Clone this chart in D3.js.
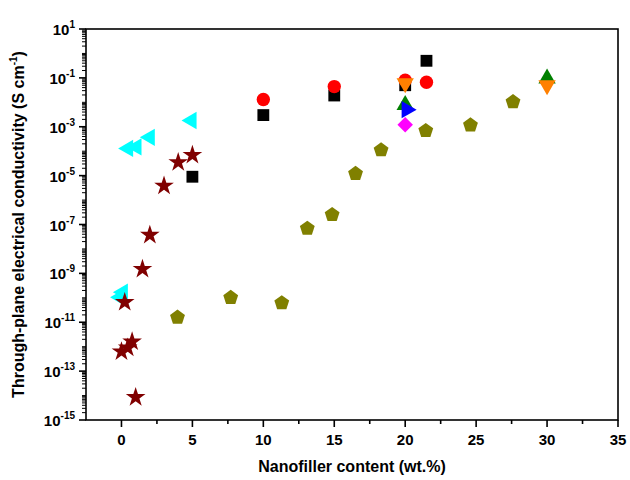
<!DOCTYPE html>
<html>
<head>
<meta charset="utf-8">
<script src="https://cdn.jsdelivr.net/npm/d3@7"></script>
<style>
  body { margin: 0; background: #fff; }
  text { font-family: "Liberation Sans", Arial, sans-serif; font-weight: bold; }
</style>
</head>
<body>
<script>
var svgWidth = 630, svgHeight = 480;
var margin = { top: 29, right: 12, bottom: 60, left: 86 },
    width = svgWidth - margin.left - margin.right,
    height = svgHeight - margin.top - margin.bottom;

// series data, [wt.%, S/cm]
var squares   = [[5, 9e-6], [10, 3e-3], [15, 0.019], [20, 0.05], [21.5, 0.5]];
var circles   = [[10, 0.013], [15, 0.044], [20, 0.08], [21.5, 0.066]];
var upTri     = [[20, 0.0078], [30, 0.095]];
var rightTri  = [[20.1, 0.005]];
var diamonds  = [[20, 0.0012]];
var downTri   = [[20, 0.06], [30, 0.05]];
var leftTri   = [[0.47, 1.3e-4], [1.06, 1.5e-4], [2.0, 3.7e-4], [4.94, 1.8e-3], [0.1, 1.7e-10], [-0.1, 1.05e-10]];
var pentagons = [[3.95, 1.7e-11], [7.7, 1.1e-10], [11.3, 6.6e-11], [13.1, 7.4e-8], [14.85, 2.7e-7],
                 [16.5, 1.3e-5], [18.3, 1.2e-4], [21.45, 7.4e-4], [24.6, 1.26e-3], [27.6, 0.0112]];
var stars     = [[5.0, 6.9e-5], [4.0, 3.5e-5], [3.0, 3.8e-6], [2.0, 3.7e-8], [1.48, 1.5e-9], [0.23, 6.6e-11],
                 [0.75, 1.6e-12], [0.44, 9e-13], [0.0, 6.3e-13], [1.0, 8.5e-15]];

var xTicks = [0, 5, 10, 15, 20, 25, 30, 35];
var yExps = [1, -1, -3, -5, -7, -9, -11, -13, -15];

var svg = d3.select("body").append("svg").attr("width", svgWidth).attr("height", svgHeight);
var g = svg.append("g").attr("transform", `translate(${margin.left},${margin.top})`);

var x = d3.scaleLinear().domain([-2.5, 35]).range([0, width]);
var y = d3.scaleLog().domain([1e-15, 10]).range([height, 0]);

// frame
g.append("rect").attr("width", width).attr("height", height)
    .attr("fill", "none").attr("stroke", "#000").attr("stroke-width", 1.6);

// x ticks
var xMinor = d3.range(-2.5, 35.1, 2.5).filter(d => d % 5 !== 0 && d > -2.5);
g.selectAll(".xmaj").data(xTicks).enter().append("line")
    .attr("x1", d => x(d)).attr("x2", d => x(d))
    .attr("y1", height).attr("y2", height + 7)
    .attr("stroke", "#000").attr("stroke-width", 1.6);
g.selectAll(".xmin").data(xMinor).enter().append("line")
    .attr("x1", d => x(d)).attr("x2", d => x(d))
    .attr("y1", height).attr("y2", height + 4)
    .attr("stroke", "#000").attr("stroke-width", 1.6);
g.selectAll(".xlab").data(xTicks).enter().append("text")
    .attr("x", d => x(d)).attr("y", height + 25)
    .attr("text-anchor", "middle").attr("font-size", 15).text(d => d);

// y ticks
var yMinor = [];
for (var e = -15; e < 1; e++) {
  for (var m = 2; m <= 9; m++) yMinor.push(m * Math.pow(10, e));
  if (yExps.indexOf(e) < 0) yMinor.push(Math.pow(10, e));
}
g.selectAll(".ymaj").data(yExps).enter().append("line")
    .attr("x1", 0).attr("x2", -7)
    .attr("y1", d => y(Math.pow(10, d))).attr("y2", d => y(Math.pow(10, d)))
    .attr("stroke", "#000").attr("stroke-width", 1.6);
g.selectAll(".ymin").data(yMinor).enter().append("line")
    .attr("x1", 0).attr("x2", -4)
    .attr("y1", d => y(d)).attr("y2", d => y(d))
    .attr("stroke", "#000").attr("stroke-width", 1);
var yl = g.selectAll(".ylab").data(yExps).enter().append("text")
    .attr("x", -11).attr("y", d => y(Math.pow(10, d)) + 6)
    .attr("text-anchor", "end").attr("font-size", 15);
yl.append("tspan").text("10");
yl.append("tspan").attr("dy", -7).attr("font-size", 10).text(d => d);

// axis titles
svg.append("text").attr("x", margin.left + x(16.25)).attr("y", 472)
    .attr("text-anchor", "middle").attr("font-size", 16).text("Nanofiller content (wt.%)");
var yt = svg.append("text").attr("transform", `translate(24,${margin.top + height / 2}) rotate(-90)`)
    .attr("text-anchor", "middle").attr("font-size", 16);
yt.append("tspan").text("Through-plane electrical conductivity (S cm");
yt.append("tspan").attr("dy", -7).attr("font-size", 10).text("-1");
yt.append("tspan").attr("dy", 7).text(")");

// markers
var pentPath = (function () {
  var r = 7.8, pts = [];
  for (var i = 0; i < 5; i++) {
    var a = -Math.PI / 2 + i * 2 * Math.PI / 5;
    pts.push([r * Math.cos(a), r * Math.sin(a) + 0.8]);
  }
  return "M" + pts.join("L") + "Z";
})();
var tri = d3.symbol().type(d3.symbolTriangle).size(130)();

function plot(data, path, color, rot) {
  g.append("g").selectAll("path").data(data).enter().append("path")
      .attr("d", path)
      .attr("fill", color)
      .attr("transform", d => `translate(${x(d[0])},${y(d[1])}) rotate(${rot || 0})`);
}

plot(leftTri, tri, "#00ffff", -90);
plot(squares, d3.symbol().type(d3.symbolSquare).size(140)(), "#000000");
plot(circles, d3.symbol().type(d3.symbolCircle).size(140)(), "#ff0000");
plot(upTri, tri, "#008000", 0);
plot(rightTri, tri, "#0000ff", 90);
plot(diamonds, d3.symbol().type(d3.symbolSquare).size(120)(), "#ff00ff", 45);
plot(downTri, tri, "#ff8000", 180);
plot(pentagons, pentPath, "#808000");
plot(stars, d3.symbol().type(d3.symbolStar).size(120)(), "#800000");
</script>
</body>
</html>
